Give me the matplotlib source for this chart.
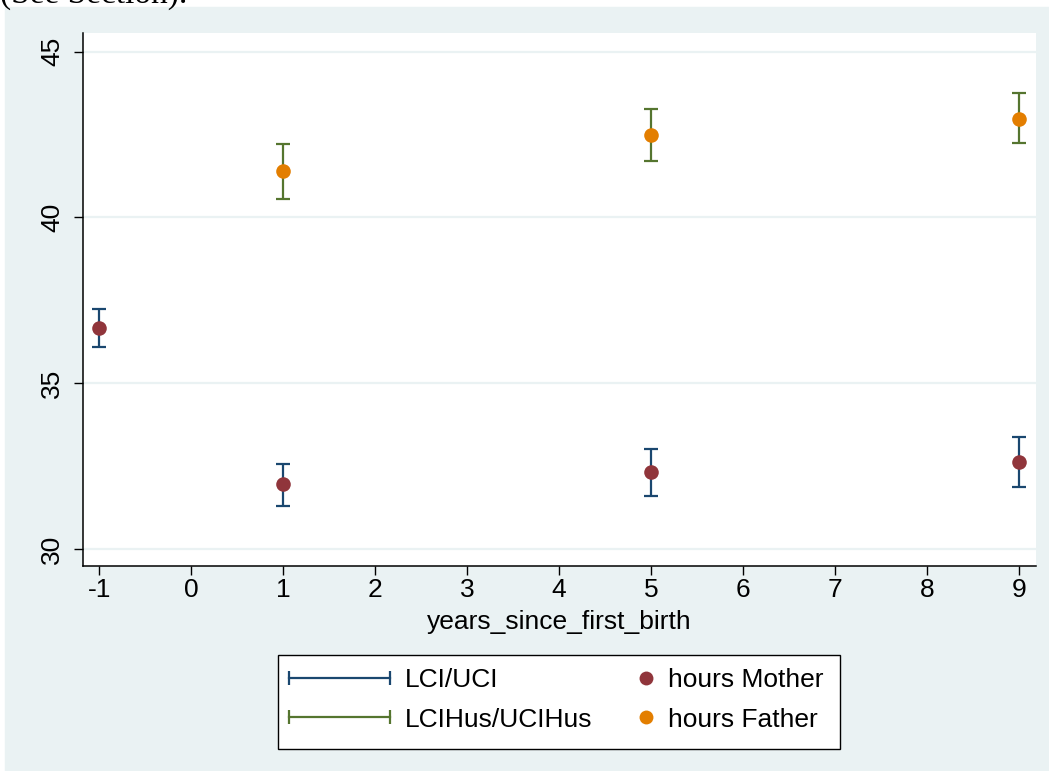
import matplotlib
matplotlib.use("Agg")
import matplotlib.pyplot as plt
from matplotlib.lines import Line2D
from matplotlib.patches import Rectangle
from matplotlib.legend_handler import HandlerLine2D

plt.rcParams['font.family'] = ['Liberation Sans', 'DejaVu Sans']
plt.rcParams['axes.unicode_minus'] = False

# data
years = [-1, 1, 5, 9]
mother = [36.66, 31.95, 32.31, 32.63]
mother_lo = [36.09, 31.31, 31.61, 31.88]
mother_hi = [37.24, 32.57, 33.02, 33.37]

years_hus = [1, 5, 9]
father = [41.39, 42.48, 42.98]
father_lo = [40.55, 41.70, 42.23]
father_hi = [42.22, 43.26, 43.75]

xticks = list(range(-1, 10))
yticks = [30, 35, 40, 45]

navy = '#1A476F'
maroon = '#90353B'
green = '#55752F'
orange = '#E37E00'
bg = '#EAF2F3'

W, H = 1049, 771
fig = plt.figure(figsize=(W / 100, H / 100), dpi=100, facecolor='white')
# stata-like background panel (top strip left white, cropped text above)
fig.add_artist(Rectangle((5 / W, 0), 1 - 5 / W, (H - 7) / H,
                         transform=fig.transFigure, color=bg, zorder=0))
fig.text(0, 1 - 3 / H, '(See Section).', fontsize=24, va='baseline',
         family='Liberation Serif')

ax = fig.add_axes([82.7 / W, (H - 565.7) / H, (1036 - 82.7) / W, (565.7 - 33.3) / H])
ax.set_facecolor('white')

# confidence intervals
ax.errorbar(years, mother,
            yerr=[[m - l for m, l in zip(mother, mother_lo)],
                  [h - m for m, h in zip(mother, mother_hi)]],
            fmt='none', ecolor=navy, elinewidth=1.6, capsize=5.2, capthick=1.6, zorder=3)
ax.errorbar(years_hus, father,
            yerr=[[m - l for m, l in zip(father, father_lo)],
                  [h - m for m, h in zip(father, father_hi)]],
            fmt='none', ecolor=green, elinewidth=1.6, capsize=5.2, capthick=1.6, zorder=3)
# point estimates
ax.plot(years, mother, 'o', color=maroon, ms=10.5, mew=0, zorder=4)
ax.plot(years_hus, father, 'o', color=orange, ms=10.5, mew=0, zorder=4)

ax.set_xlim(-1.18, 9.188)
ax.set_ylim(29.5, 45.55)
ax.set_xticks(xticks)
ax.set_yticks(yticks)
ax.grid(axis='y', color=bg, lw=1.6, zorder=0)
ax.set_axisbelow(True)
for s in ['top', 'right']:
    ax.spines[s].set_visible(False)
for s in ['left', 'bottom']:
    ax.spines[s].set_linewidth(1.1)
ax.tick_params(length=6.5, width=1.0, labelsize=19, color='black')
ax.tick_params(axis='x', pad=2)
ax.tick_params(axis='y', pad=7, labelrotation=90)
plt.setp(ax.get_yticklabels(), va='center')
ax.set_xlabel('years_since_first_birth', fontsize=19, labelpad=6)

# legend: two blocks inside one frame
fig.add_artist(Rectangle((278 / W, (H - 749) / H), (840 - 278) / W, (749 - 655) / H,
                         transform=fig.transFigure, facecolor='white',
                         edgecolor='black', lw=1.0, zorder=1))
h_ci = Line2D([], [], color=navy, lw=1.6, marker='|', ms=9.5, mew=1.6)
h_cih = Line2D([], [], color=green, lw=1.6, marker='|', ms=9.5, mew=1.6)
hm = HandlerLine2D(numpoints=2, marker_pad=0)
leg1 = fig.legend([h_ci, h_cih], ['LCI/UCI', 'LCIHus/UCIHus'],
                  handler_map={h_ci: hm, h_cih: hm},
                  loc='center left', bbox_to_anchor=(288.5 / W, 1 - 700 / H),
                  frameon=False, fontsize=19, borderpad=0, borderaxespad=0,
                  handlelength=3.83, handletextpad=0.58, labelspacing=0.57)
h_m = Line2D([], [], ls='none', marker='o', color=maroon, ms=10, mew=0)
h_f = Line2D([], [], ls='none', marker='o', color=orange, ms=10, mew=0)
leg2 = fig.legend([h_m, h_f], ['hours Mother', 'hours Father'],
                  loc='center left', bbox_to_anchor=((646 - 10.5) / W, 1 - 700 / H),
                  frameon=False, fontsize=19, borderpad=0, borderaxespad=0,
                  handlelength=0.8, handletextpad=0.44, labelspacing=0.57)
leg1.set_zorder(2)
leg2.set_zorder(2)

fig.savefig('out.png', dpi=100, facecolor='white')
